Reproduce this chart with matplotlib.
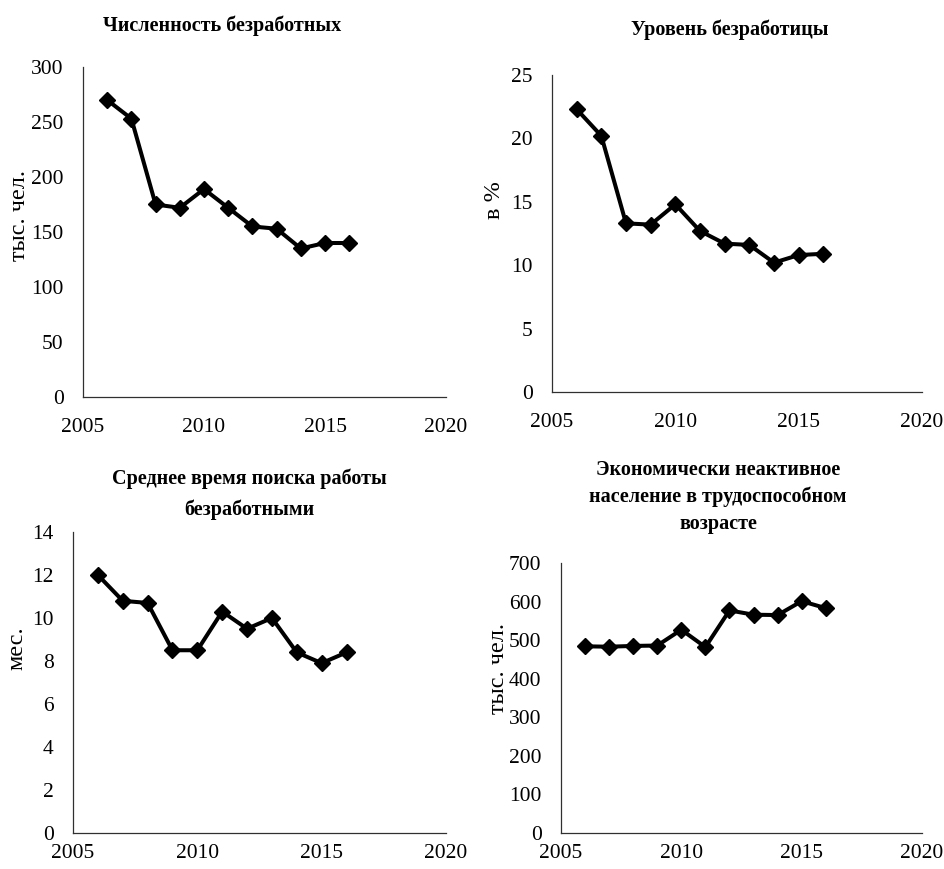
import matplotlib
matplotlib.use("Agg")
import matplotlib.pyplot as plt

years = [2006, 2007, 2008, 2009, 2010, 2011, 2012, 2013, 2014, 2015, 2016]
unemployed = [270, 253, 175, 172, 189, 172, 155, 153, 135, 140, 140]
unemp_rate = [22.3, 20.2, 13.3, 13.2, 14.8, 12.7, 11.7, 11.6, 10.2, 10.8, 10.9]
search_time = [12.0, 10.8, 10.7, 8.5, 8.5, 10.3, 9.5, 10.0, 8.4, 7.9, 8.4]
inactive = [484, 483, 485, 486, 527, 482, 577, 566, 565, 601, 583]

titles = ["Численность безработных",
          "Уровень безработицы",
          "Среднее время поиска работы\nбезработными",
          "Экономически неактивное\nнаселение в трудоспособном\nвозрасте"]
ylabels = ["тыс. чел.", "в %", "мес.", "тыс. чел."]
yticks = [[0, 50, 100, 150, 200, 250, 300],
          [0, 5, 10, 15, 20, 25],
          [0, 2, 4, 6, 8, 10, 12, 14],
          [0, 100, 200, 300, 400, 500, 600, 700]]
xticks = [2005, 2010, 2015, 2020]
series = [unemployed, unemp_rate, search_time, inactive]

plt.rcParams['font.family'] = ['Liberation Serif', 'DejaVu Serif']

W, H = 944, 869
fig = plt.figure(figsize=(W / 100, H / 100), dpi=100)

# axes boxes in pixels: left, right, top, bottom
boxes = [(83, 446, 67, 397), (552, 922, 75, 392), (73, 446, 532, 833), (561, 922, 563, 833)]
title_pos = [(222, 26), (730, 30), (249, 494), (718, 497)]
title_ls = [1.0, 1.0, 1.65, 1.45]
ylab_pos = [(20, 215), (495, 200), (17, 648), (499, 668)]
xpads = [15, 15, 8, 8]

for i in range(4):
    l, r, t, b = boxes[i]
    ax = fig.add_axes([l / W, 1 - b / H, (r - l) / W, (b - t) / H])
    ax.plot(years, series[i], color='black', lw=2.9, marker='D', markersize=8.5,
            markerfacecolor='black', markeredgecolor='black')
    ax.set_xlim(2005, 2020)
    ax.set_ylim(yticks[i][0], yticks[i][-1])
    ax.set_xticks(xticks)
    ax.set_yticks(yticks[i])
    ax.tick_params(length=0, labelsize=15.5)
    ax.tick_params(axis='y', pad=14)
    ax.tick_params(axis='x', pad=xpads[i])
    for s in ['top', 'right']:
        ax.spines[s].set_visible(False)
    for s in ['left', 'bottom']:
        ax.spines[s].set_color('#303030')
        ax.spines[s].set_linewidth(0.9)
    lx, ly = ylab_pos[i]
    fig.text(lx / W, 1 - ly / H, ylabels[i], rotation=90,
             ha='center', va='center', fontsize=17.5)
    tx, ty = title_pos[i]
    fig.text(tx / W, 1 - ty / H, titles[i], ha='center', va='center',
             fontsize=14.5, fontweight='bold', linespacing=title_ls[i])

fig.savefig("out.png", dpi=100)
